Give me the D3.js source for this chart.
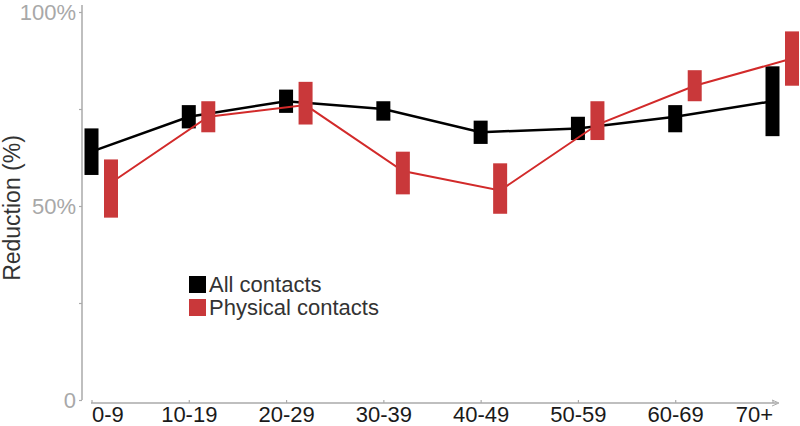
<!DOCTYPE html>
<html><head><meta charset="utf-8">
<script src="https://cdn.jsdelivr.net/npm/d3@7/dist/d3.min.js"></script>
<style>
html,body{margin:0;padding:0;background:#fff;}
svg{display:block;font-family:"Liberation Sans",Arial,sans-serif;}
</style></head>
<body>
<svg id="chart" width="800" height="426"></svg>
<script>
const categories = ["0-9","10-19","20-29","30-39","40-49","50-59","60-69","70+"];
const allMid = [64, 73, 77, 75, 69, 70, 73, 77];
const allLo  = [58, 70, 74, 72, 66, 67, 69, 68];
const allHi  = [70, 76, 80, 77, 72, 73, 76, 86];
const physMid = [56, 73, 76, 59, 54, 71, 81, 88];
const physLo  = [47, 69, 71, 53, 48, 67, 77, 81];
const physHi  = [62, 77, 82, 64, 61, 77, 85, 95];
const yTicks = [0, 25, 50, 75, 100];
const yTickLabels = {0: "0", 50: "50%", 100: "100%"};
const seriesNames = ["All contacts", "Physical contacts"];

const svg = d3.select("#chart");
const x = d3.scalePoint().domain(categories).range([91.5, 772.5]);
const y = d3.scaleLinear().domain([0, 100]).range([400, 12]);

const axisGray = "#aaaaaa";
const red = "#c9383a";
const redLine = "#d22a2a";

// Y axis
const yAxis = d3.axisLeft(y).tickValues(yTicks).tickSize(3).tickFormat(d => yTickLabels[d] || "");
const gy = svg.append("g").attr("transform", "translate(82,0)").call(yAxis);
gy.select(".domain").attr("stroke", axisGray).attr("stroke-width", 1.5).attr("d", "M0,5V400");
gy.selectAll(".tick line").attr("stroke", axisGray).attr("stroke-width", 1.2);
gy.selectAll(".tick text").attr("fill", "#a8a8a8").attr("font-size", 22).attr("x", -6)
  .attr("font-family", "Liberation Sans, Arial, sans-serif");

// X axis
const xAxis = d3.axisBottom(x).tickSize(-3).tickFormat(d => d);
const gx = svg.append("g").attr("transform", "translate(0,403)").call(xAxis);
gx.select(".domain").attr("stroke", axisGray).attr("stroke-width", 1.5).attr("d", "M91,0H777");
gx.selectAll(".tick line").attr("stroke", axisGray).attr("stroke-width", 1.2);
gx.selectAll(".tick text").attr("fill", "#1a1a1a").attr("font-size", 22).attr("y", 3)
  .attr("dy", "0.71em").attr("font-family", "Liberation Sans, Arial, sans-serif")
  .attr("text-anchor", (d, i) => i === 0 ? "start" : (i === categories.length - 1 ? "end" : "middle"));
// small arrow at x-axis end
svg.append("path").attr("d", "M772,400L779,403L772,406").attr("fill", "none").attr("stroke", axisGray).attr("stroke-width", 1);

// Y-axis title
svg.append("text").attr("transform", "translate(20,208) rotate(-90)")
  .attr("text-anchor", "middle").attr("font-size", 23).attr("fill", "#333")
  .text("Reduction (%)");

const offset = 19.5;
const boxW = 14;

function drawSeries(mid, lo, hi, dx, fill, lineColor, lineW) {
  const data = categories.map((c, i) => ({c, mid: mid[i], lo: lo[i], hi: hi[i]}));
  const line = d3.line().x(d => x(d.c) + dx).y(d => y(d.mid));
  svg.append("path").datum(data).attr("d", line).attr("fill", "none")
    .attr("stroke", lineColor).attr("stroke-width", lineW);
  svg.append("g").selectAll("rect").data(data).join("rect")
    .attr("x", d => x(d.c) + dx - boxW / 2)
    .attr("width", boxW)
    .attr("y", d => y(d.hi))
    .attr("height", d => y(d.lo) - y(d.hi))
    .attr("fill", fill);
}

drawSeries(allMid, allLo, allHi, 0, "#000", "#000", 2.5);
drawSeries(physMid, physLo, physHi, offset, red, redLine, 2);

// Legend
const legend = svg.append("g");
const colors = ["#000", red];
seriesNames.forEach((n, i) => {
  legend.append("rect").attr("x", 189).attr("y", 276 + i * 23).attr("width", 17).attr("height", 17).attr("fill", colors[i]);
  legend.append("text").attr("x", 209).attr("y", 292 + i * 23).attr("font-size", 22).attr("fill", "#333").text(n);
});
</script>
</body></html>
